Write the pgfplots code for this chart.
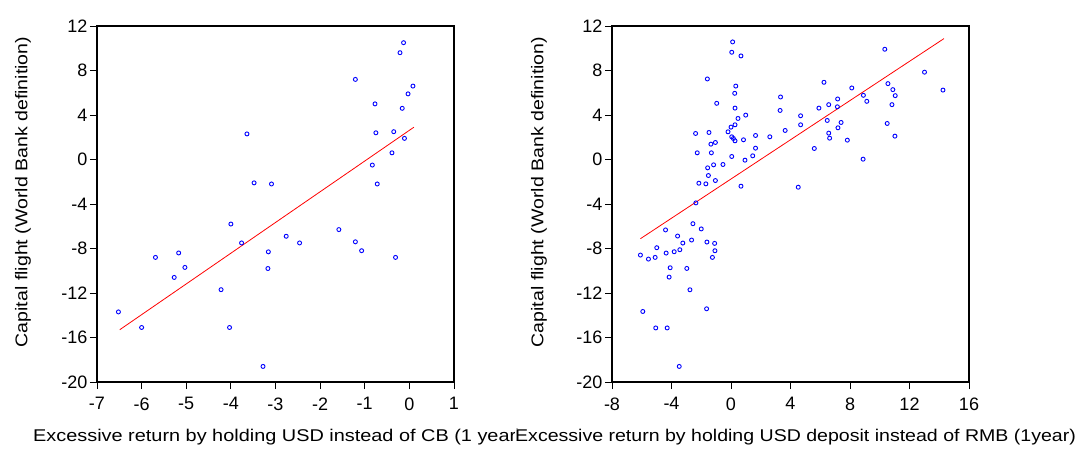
\documentclass[border=0pt]{standalone}
\usepackage{fontspec}
\setmainfont{Liberation Sans}
\usepackage{pgfplots}
\pgfplotsset{compat=1.18}

\pgfplotsset{
  scat/.style={
    scale only axis,
    axis line style={line width=1.2pt},
    tick style={black, line width=0.8pt},
    tick align=outside,
    major tick length=7pt,
    xtick pos=bottom, ytick pos=left,
    tick label style={font=\fontsize{18}{18}\selectfont},
    xticklabel style={yshift=-5pt},
    yticklabel style={xshift=1pt},
    /pgf/number format/assume math mode=true,
    ymin=-20, ymax=12, ytick={-20,-16,...,12},
    clip=false,
  },
  pts/.style={only marks, mark=o, mark size=2pt,
    mark options={draw=blue, line width=0.9pt}},
  fit/.style={red, line width=0.8pt, no marks},
}
\newcommand{\lbl}[1]{\scalebox{1.15}[1]{#1}}

\begin{document}
\begin{tikzpicture}[x=1pt,y=1pt]
\useasboundingbox (0,0) rectangle (1077,448);

\begin{axis}[scat, at={(97pt,66pt)}, anchor=south west,
  width=357pt, height=356pt,
  xmin=-7, xmax=1, xtick={-7,-6,...,1}]
\addplot[pts] coordinates {
(-0.13,10.5) (-0.21,9.6) (-1.21,7.2) (0.08,6.6) (-0.03,5.9) (-0.77,5.0)
(-0.16,4.6) (-3.64,2.3) (-0.75,2.4) (-0.35,2.5) (-0.11,1.9) (-0.39,0.6)
(-0.83,-0.5) (-3.48,-2.1) (-3.09,-2.2) (-0.72,-2.2) (-4.0,-5.8) (-1.58,-6.3)
(-2.76,-6.9) (-3.76,-7.5) (-2.46,-7.5) (-1.21,-7.4) (-5.17,-8.4) (-3.16,-8.3)
(-1.07,-8.2) (-5.69,-8.8) (-0.31,-8.8) (-5.03,-9.7) (-3.17,-9.8) (-5.27,-10.6)
(-4.22,-11.7) (-6.52,-13.7) (-6.0,-15.1) (-4.03,-15.1) (-3.28,-18.6)
};
\addplot[fit] coordinates {(-6.49,-15.3) (0.1,2.9)};
\end{axis}

\begin{axis}[scat, at={(612pt,66pt)}, anchor=south west,
  width=357pt, height=356pt,
  xmin=-8, xmax=16, xtick={-8,-4,...,16}]
\addplot[pts] coordinates {
(0.11,10.57) (0.05,9.64) (0.67,9.31) (10.34,9.91) (13.01,7.85) (14.25,6.24)
(-1.59,7.24) (6.25,6.94) (0.32,6.6) (0.25,5.95) (8.12,6.43) (10.55,6.82)
(10.88,6.28) (11.04,5.74) (8.9,5.77) (3.33,5.62) (-0.96,5.05) (9.13,5.23)
(7.17,5.44) (6.57,4.93) (10.82,4.93) (0.27,4.62) (5.91,4.62) (7.15,4.74)
(3.3,4.41) (0.47,3.69) (0.99,3.99) (4.68,3.93) (6.47,3.51) (7.4,3.33)
(0.27,3.12) (0.0,2.91) (4.68,3.12) (10.5,3.24) (7.19,2.85) (3.64,2.61)
(-0.2,2.49) (-2.38,2.34) (-1.48,2.43) (6.57,2.37) (11.02,2.1) (0.05,2.04)
(0.16,1.89) (0.27,1.68) (1.65,2.16) (2.61,2.04) (6.63,1.92) (0.84,1.77)
(7.82,1.74) (-1.35,1.38) (-1.05,1.53) (-2.27,0.6) (-1.32,0.6) (1.65,1.02)
(5.6,0.99) (0.05,0.27) (0.94,-0.06) (1.46,0.33) (8.88,0.03) (-0.54,-0.45)
(-1.17,-0.48) (-1.57,-0.75) (-1.52,-1.44) (-2.16,-2.13) (-1.69,-2.19) (-1.05,-1.89)
(0.67,-2.4) (4.52,-2.49) (-2.36,-3.9) (-2.56,-5.77) (-2.0,-6.24) (-4.4,-6.33)
(-3.59,-6.88) (-2.65,-7.24) (-3.24,-7.51) (-1.62,-7.42) (-1.1,-7.54) (-4.99,-7.93)
(-3.44,-8.11) (-3.82,-8.29) (-4.36,-8.41) (-1.08,-8.2) (-6.09,-8.59) (-5.55,-8.95)
(-5.1,-8.8) (-1.25,-8.8) (-4.09,-9.73) (-2.97,-9.79) (-4.16,-10.57) (-2.76,-11.71)
(-5.93,-13.66) (-1.64,-13.42) (-5.06,-15.14) (-4.29,-15.14) (-3.48,-18.6)
};
\addplot[fit] coordinates {(-6.09,-7.12) (14.32,10.87)};
\end{axis}

\node[rotate=90, font=\fontsize{17}{17}\selectfont] at (23,256) {\lbl{Capital flight (World Bank definition)}};
\node[rotate=90, font=\fontsize{17}{17}\selectfont] at (539,256) {\lbl{Capital flight (World Bank definition)}};
\node[font=\fontsize{17}{17}\selectfont, anchor=west, inner sep=0pt] at (33,11) {\scalebox{1.17}[1]{Excessive return by holding USD instead of CB (1 year)}};
\node[font=\fontsize{17}{17}\selectfont, fill=white, inner sep=0pt, anchor=west] at (515,11) {\lbl{Excessive return by holding USD deposit instead of RMB (1year)}};
\end{tikzpicture}
\end{document}
